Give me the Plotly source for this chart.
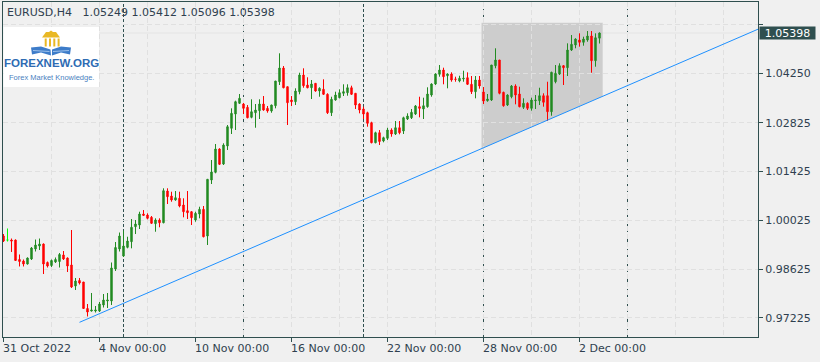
import plotly.graph_objects as go
from datetime import datetime, timedelta

# ---------------- data (EURUSD H4) ----------------
symbol = "EURUSD,H4"
start_time = "2022-10-31 00:00"

open_ = [0.99576, 0.99461, 0.99461, 0.99461, 0.98902, 0.98859, 0.98773, 0.98917, 0.99204, 0.99289,
         0.99346, 0.98816, 0.98730, 0.98831, 0.98845, 0.99032, 0.98945, 0.98745, 0.98142, 0.98300,
         0.98257, 0.97497, 0.97425, 0.97425, 0.97425, 0.97598, 0.97712, 0.97712, 0.98630, 0.99204,
         0.99003, 0.99251, 0.99413, 0.99843, 0.99891, 1.00206, 1.00178, 1.00112, 0.99929, 1.00035,
         0.99957, 1.00866, 1.00723, 1.00608, 1.00657, 1.00465, 1.00301, 1.00272, 1.00035, 1.00206,
         1.00341, 0.99576, 1.01182, 1.01402, 1.02071, 1.01640, 1.02157, 1.02664, 1.03074, 1.03381,
         1.03361, 1.03266, 1.02979, 1.03111, 1.03169, 1.03361, 1.03237, 1.03160, 1.03312, 1.04000,
         1.04393, 1.03857, 1.03476, 1.03427, 1.03714, 1.04192, 1.03906, 1.03828, 1.03954, 1.03734,
         1.03782, 1.03639, 1.03111, 1.03476, 1.03542, 1.03668, 1.03685, 1.03828, 1.03668, 1.03361,
         1.03218, 1.03111, 1.02825, 1.02251, 1.02538, 1.02300, 1.02377, 1.02615, 1.02501, 1.02681,
         1.02587, 1.02931, 1.02968, 1.03074, 1.03284, 1.03218, 1.03284, 1.03619, 1.03934, 1.04213,
         1.04336, 1.04172, 1.04221, 1.04078, 1.04020, 1.04078, 1.04115, 1.03926, 1.03714, 1.04049,
         1.03705, 1.03456, 1.03476, 1.04459, 1.04623, 1.03696, 1.03332, 1.03570, 1.03877, 1.03648,
         1.03266, 1.03381, 1.03237, 1.03456, 1.03456, 1.03599, 1.03599, 1.03140, 1.04000, 1.04221,
         1.04459, 1.04402, 1.04909, 1.05053, 1.05196, 1.05130, 1.05196, 1.05311, 1.04603, 1.05249]

high = [0.99633, 0.99791, 0.99504, 0.99475, 0.99046, 0.98902, 0.98960, 0.99261, 0.99475, 0.99504,
        0.99361, 0.98845, 0.98902, 0.98960, 0.99089, 0.99146, 0.98960, 0.99748, 0.98372, 0.98372,
        0.98257, 0.97626, 0.97942, 0.97569, 0.97684, 0.97913, 0.97942, 0.98816, 0.99404, 0.99676,
        0.99733, 0.99555, 1.00063, 1.00035, 1.00272, 1.00321, 1.00226, 1.00149, 1.00083, 1.00083,
        1.00944, 1.00944, 1.00846, 1.00866, 1.00846, 1.00657, 1.00866, 1.00293, 1.00272, 1.00416,
        1.00436, 1.01211, 1.01755, 1.02214, 1.02091, 1.02234, 1.02759, 1.03237, 1.03456, 1.03648,
        1.03390, 1.03332, 1.03496, 1.03361, 1.03496, 1.03590, 1.03304, 1.03341, 1.04020, 1.04815,
        1.04450, 1.03857, 1.03590, 1.03811, 1.04258, 1.04385, 1.04127, 1.04049, 1.03963, 1.03840,
        1.04069, 1.03668, 1.03570, 1.03714, 1.03782, 1.03926, 1.03926, 1.03886, 1.03668, 1.03381,
        1.03284, 1.03140, 1.02853, 1.02567, 1.02615, 1.02424, 1.02681, 1.02664, 1.02873, 1.02873,
        1.02997, 1.03094, 1.03218, 1.03332, 1.03570, 1.03542, 1.03840, 1.03954, 1.04241, 1.04479,
        1.04402, 1.04241, 1.04270, 1.04144, 1.04172, 1.04316, 1.04270, 1.04164, 1.04164, 1.04164,
        1.03848, 1.03648, 1.04479, 1.04958, 1.04623, 1.03714, 1.03639, 1.03906, 1.03926, 1.03857,
        1.03524, 1.03410, 1.03542, 1.03619, 1.03828, 1.03668, 1.04000, 1.04287, 1.04479, 1.04528,
        1.04479, 1.05101, 1.05339, 1.05245, 1.05388, 1.05291, 1.05454, 1.05454, 1.05388, 1.05412]

low = [0.99404, 0.99418, 0.99118, 0.98859, 0.98702, 0.98702, 0.98759, 0.98888, 0.99132, 0.99175,
       0.98486, 0.98673, 0.98687, 0.98802, 0.98673, 0.98888, 0.98544, 0.98085, 0.98028, 0.98185,
       0.97483, 0.97268, 0.97411, 0.97382, 0.97397, 0.97526, 0.97511, 0.97598, 0.98573, 0.99132,
       0.98974, 0.99223, 0.99223, 0.99633, 0.99777, 1.00149, 1.00055, 0.99920, 0.99699, 0.99826,
       0.99940, 1.00493, 1.00559, 1.00588, 1.00399, 1.00112, 1.00063, 0.99891, 0.99986, 1.00083,
       0.99538, 0.99318, 1.01067, 1.01374, 1.01612, 1.01612, 1.02042, 1.02501, 1.02615, 1.03361,
       1.03074, 1.02951, 1.02951, 1.02681, 1.02931, 1.03169, 1.03111, 1.03111, 1.03237, 1.03906,
       1.03811, 1.02759, 1.03304, 1.03332, 1.03639, 1.03828, 1.03811, 1.03504, 1.03714, 1.03570,
       1.03619, 1.03074, 1.03017, 1.03456, 1.03524, 1.03590, 1.03599, 1.03619, 1.03218, 1.03094,
       1.02931, 1.02710, 1.02234, 1.02234, 1.02185, 1.02263, 1.02329, 1.02423, 1.02472, 1.02492,
       1.02501, 1.02902, 1.02931, 1.03046, 1.02979, 1.02931, 1.03255, 1.03570, 1.03906, 1.04144,
       1.03926, 1.03811, 1.04000, 1.04000, 1.03983, 1.04000, 1.03906, 1.03648, 1.03524, 1.03800,
       1.03361, 1.03427, 1.03447, 1.04385, 1.03639, 1.03284, 1.03304, 1.03524, 1.03352, 1.03266,
       1.03218, 1.03189, 1.03169, 1.03218, 1.03332, 1.03284, 1.02873, 1.03025, 1.03954, 1.04192,
       1.03906, 1.04164, 1.04881, 1.04958, 1.05004, 1.05033, 1.05147, 1.04258, 1.04431, 1.05096]

close = [0.99432, 0.99461, 0.99432, 0.98874, 0.98845, 0.98773, 0.98945, 0.99232, 0.99318, 0.99346,
         0.98773, 0.98716, 0.98874, 0.98902, 0.99046, 0.98917, 0.98716, 0.98114, 0.98286, 0.98228,
         0.97497, 0.97397, 0.97454, 0.97454, 0.97626, 0.97741, 0.97741, 0.98659, 0.99246, 0.99576,
         0.99289, 0.99432, 0.99826, 0.99920, 1.00206, 1.00169, 1.00083, 0.99940, 1.00035, 0.99957,
         1.00875, 1.00703, 1.00608, 1.00674, 1.00436, 1.00272, 1.00244, 1.00100, 1.00226, 1.00341,
         0.99555, 1.01202, 1.01411, 1.02071, 1.01632, 1.02185, 1.02710, 1.03094, 1.03427, 1.03524,
         1.03237, 1.02968, 1.03140, 1.03189, 1.03361, 1.03189, 1.03160, 1.03332, 1.04020, 1.04393,
         1.03828, 1.03398, 1.03427, 1.03734, 1.04192, 1.03886, 1.03828, 1.03934, 1.03734, 1.03811,
         1.03639, 1.03111, 1.03496, 1.03619, 1.03685, 1.03714, 1.03828, 1.03639, 1.03332, 1.03189,
         1.03074, 1.02807, 1.02251, 1.02538, 1.02286, 1.02395, 1.02615, 1.02501, 1.02681, 1.02538,
         1.02968, 1.03017, 1.03123, 1.03304, 1.03237, 1.03312, 1.03648, 1.03934, 1.04221, 1.04336,
         1.04144, 1.04221, 1.04049, 1.04069, 1.04098, 1.04098, 1.03926, 1.03714, 1.04049, 1.03877,
         1.03447, 1.03504, 1.04479, 1.04623, 1.03668, 1.03312, 1.03619, 1.03877, 1.03619, 1.03284,
         1.03381, 1.03237, 1.03476, 1.03476, 1.03599, 1.03410, 1.03140, 1.04270, 1.04241, 1.04459,
         1.04402, 1.04909, 1.05073, 1.05225, 1.05130, 1.05225, 1.05311, 1.04603, 1.05262, 1.05398]

y_tick_prices = [0.97225, 0.98625, 1.00025, 1.01425, 1.02825, 1.04250, 1.05650]
y_tick_labels = ["0.97225", "0.98625", "1.00025", "1.01425", "1.02825", "1.04250", ""]

# trend line anchors (bar index, price) and the shaded zone
trend_idx = [19, 150]
trend_price = [0.97101, 1.03592]
zone_idx = [119.5, 149.8]
zone_top = 1.05692

# ---------------- styling ----------------
BG = "#f0f0f0"
FRAME = "#2f4f4f"
GRID = "#e0e0e0"
TXT = "#2f3f4f"
UP = "#228b22"
DOWN = "#ff0000"
FONT = "DejaVu Sans"

W, H = 820, 362
ML, MR, MT, MB = 3, 62, 2, 25
PW, PH = W - ML - MR, H - MT - MB
x_range = [-0.125, 188.625]
y_range = [0.96680, 1.06286]


def px(x):
    return (x - ML) / PW


def py(y):
    return (H - MB - y) / PH


# ---------------- times / ticks ----------------
n = len(close)
t0 = datetime.strptime(start_time, "%Y-%m-%d %H:%M")
times = []
t = t0
while len(times) < n:
    if t.weekday() < 5:
        times.append(t)
    t += timedelta(hours=4)
future = [times[-1] + timedelta(hours=4 * k) for k in range(1, 60)]
all_times = times + future


def week_key(tt):
    return (tt - timedelta(days=(tt.weekday() + 1) % 7)).date()


separators = [i for i in range(1, len(all_times))
              if week_key(all_times[i]) != week_key(all_times[i - 1]) and i <= x_range[1]]

label_idx = list(range(0, n, 24))
label_txt = []
for k, i in enumerate(label_idx):
    tt = times[i]
    if k == 0:
        label_txt.append(f"{tt.day} {tt.strftime('%b %Y')}")
    else:
        label_txt.append(f"{tt.day} {tt.strftime('%b %H:%M')}")
grid_idx = list(range(0, int(x_range[1]) + 1, 12))

# ---------------- traces ----------------
idx = list(range(n))
doji = [i for i in idx if open_[i] == close[i]]
normal = [i for i in idx if i not in doji]

fig = go.Figure()
fig.add_trace(go.Candlestick(
    x=normal,
    open=[open_[i] for i in normal], high=[high[i] for i in normal],
    low=[low[i] for i in normal], close=[close[i] for i in normal],
    increasing=dict(line=dict(color=UP, width=1), fillcolor=UP),
    decreasing=dict(line=dict(color=DOWN, width=1), fillcolor=DOWN),
    whiskerwidth=0, showlegend=False, hoverinfo="skip"))
if doji:
    fig.add_trace(go.Candlestick(
        x=doji,
        open=[open_[i] for i in doji], high=[high[i] for i in doji],
        low=[low[i] for i in doji], close=[close[i] for i in doji],
        increasing=dict(line=dict(color="#00ff00", width=1), fillcolor="#00ff00"),
        decreasing=dict(line=dict(color="#00ff00", width=1), fillcolor="#00ff00"),
        whiskerwidth=0, showlegend=False, hoverinfo="skip"))

slope = (trend_price[1] - trend_price[0]) / (trend_idx[1] - trend_idx[0])


def trend_at(i):
    return trend_price[0] + slope * (i - trend_idx[0])


trend_end = 200
fig.add_trace(go.Scatter(
    x=[trend_idx[0], trend_end], y=[trend_price[0], trend_at(trend_end)],
    mode="lines", line=dict(color="#1e90ff", width=1),
    showlegend=False, hoverinfo="skip"))

# ---------------- shapes ----------------
shapes = []
z0, z1 = zone_idx
shapes.append(dict(
    type="path", xref="x", yref="y", layer="below",
    path=f"M {z0},{zone_top} L {z1},{zone_top} L {z1},{trend_at(z1)} L {z0},{trend_at(z0)} Z",
    fillcolor="#cdcdcd", line=dict(width=0)))
shapes.append(dict(type="line", xref="paper", yref="y", layer="below",
                   x0=0, x1=1, y0=close[-1], y1=close[-1],
                   line=dict(color="#e4e4e4", width=1)))
for s in separators:
    shapes.append(dict(type="line", xref="x", yref="paper", layer="below",
                       x0=s, x1=s, y0=0, y1=1,
                       line=dict(color=FRAME, width=1, dash="3px,2px")))

# logo (decoration)
shapes.append(dict(type="rect", xref="paper", yref="paper", layer="above",
                   x0=px(3.5), x1=px(99), y0=py(87), y1=py(27),
                   fillcolor="white", line=dict(width=0)))


def poly(points, color):
    d = "M " + " L ".join(f"{px(a)},{py(b)}" for a, b in points) + " Z"
    return dict(type="path", xref="paper", yref="paper", layer="above",
                path=d, fillcolor=color, line=dict(width=0))


gold = "#e9b824"
shapes.append(poly([(42, 37.5), (46, 32), (56, 32), (60, 37.5)], gold))
shapes.append(poly([(49, 32), (51, 30.5), (53, 32)], gold))
for cx in (45.7, 50.0, 54.3, 58.6):
    shapes.append(poly([(cx - 1, 38.5), (cx + 1, 38.5), (cx + 1, 46.5), (cx - 1, 46.5)], gold))
blue = "#3d7cc9"
shapes.append(poly([(31, 47.5), (41, 46.5), (50.5, 49.5), (51, 55.5), (41, 52.5), (32, 54.5)], blue))
shapes.append(poly([(52, 49.5), (61, 46.5), (71, 47.5), (70, 54.5), (61, 52.5), (52, 55.5)], blue))
shapes.append(dict(type="line", xref="paper", yref="paper", layer="above",
                   x0=px(33), x1=px(49.5), y0=py(50.5), y1=py(51.5),
                   line=dict(color="#9cc0ea", width=1)))
shapes.append(dict(type="line", xref="paper", yref="paper", layer="above",
                   x0=px(53), x1=px(69), y0=py(51.5), y1=py(50.5),
                   line=dict(color="#9cc0ea", width=1)))

# ---------------- annotations ----------------
ann = []
for i, txt in zip(label_idx, label_txt):
    ann.append(dict(x=i, xref="x", y=0, yref="paper", yanchor="top", xanchor="left",
                    xshift=-3, yshift=-3, text=txt, showarrow=False,
                    font=dict(family=FONT, size=11, color=TXT)))
nb = "\u00a0"
header = f"{symbol}{nb}{nb}{nb}{open_[-1]:.5f} {high[-1]:.5f} {low[-1]:.5f} {close[-1]:.5f}"
ann.append(dict(x=px(5), xref="paper", y=py(12.5), yref="paper", xanchor="left", yanchor="middle",
                text=header, showarrow=False, font=dict(family=FONT, size=11, color=TXT)))
ann.append(dict(x=1, xref="paper", y=close[-1], yref="y", xanchor="left", yanchor="middle",
                xshift=1, text=f"{close[-1]:.5f}", showarrow=False, bgcolor=FRAME,
                width=55, height=12, borderpad=0,
                font=dict(family=FONT, size=11, color="white")))
ann.append(dict(x=px(51.5), xref="paper", y=py(63), yref="paper", xanchor="center", yanchor="middle",
                text="<b>FOREXNEW.ORG</b>", showarrow=False,
                font=dict(family="Liberation Sans", size=11.5, color="#2e6bb3")))
ann.append(dict(x=px(51.5), xref="paper", y=py(77), yref="paper", xanchor="center", yanchor="middle",
                text="Forex Market Knowledge.", showarrow=False,
                font=dict(family="Liberation Sans", size=7.5, color="#4a7fc0")))

# ---------------- layout ----------------
fig.update_layout(
    template="none",
    width=W, height=H,
    margin=dict(l=ML, r=MR, t=MT, b=MB, pad=0, autoexpand=False),
    paper_bgcolor=BG, plot_bgcolor=BG,
    boxgap=0.5,
    showlegend=False,
    shapes=shapes,
    annotations=ann,
    xaxis=dict(
        range=x_range, rangeslider=dict(visible=False), automargin=False,
        tickmode="array", tickvals=label_idx, showticklabels=False,
        ticks="outside", ticklen=4, tickcolor=FRAME, tickwidth=1,
        showgrid=True, gridcolor=GRID, gridwidth=1, griddash="5px,3px",
        minor=dict(tickmode="array", tickvals=grid_idx, showgrid=True, gridcolor=GRID,
                   gridwidth=1, griddash="5px,3px", ticks=""),
        showline=True, linecolor=FRAME, linewidth=1, mirror=True,
        zeroline=False, fixedrange=True),
    yaxis=dict(
        range=y_range, side="right", automargin=False,
        tickmode="array", tickvals=y_tick_prices, ticktext=y_tick_labels,
        ticks="outside", ticklen=4, tickcolor=FRAME, tickwidth=1,
        tickfont=dict(family=FONT, size=11, color=TXT),
        showgrid=True, gridcolor=GRID, gridwidth=1, griddash="5px,3px",
        showline=True, linecolor=FRAME, linewidth=1, mirror=True,
        zeroline=False, fixedrange=True),
)

fig.write_html(
    "out.html",
    config={"displayModeBar": False, "staticPlot": True},
    post_script="document.body.style.margin='0px';document.body.style.padding='0px';"
                "document.body.style.overflow='hidden';document.body.style.background='#f0f0f0';",
)
